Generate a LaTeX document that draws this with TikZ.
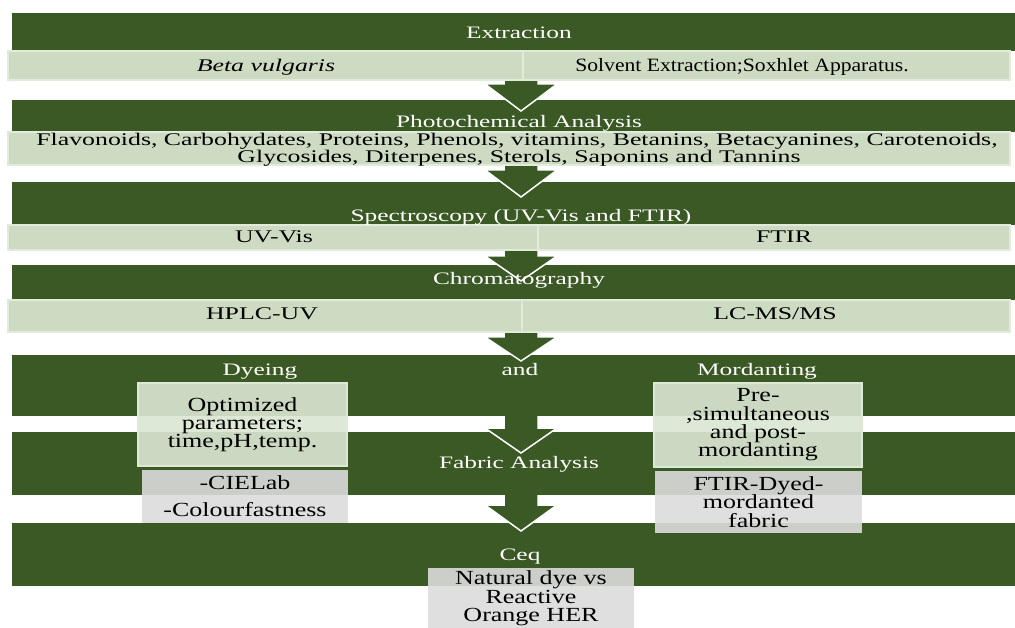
\documentclass[tikz,border=0pt]{standalone}
\usepackage{fontspec}
\setmainfont{Liberation Serif}
\newfontfamily\titlefont{Liberation Serif}[FakeStretch=1.45]
\newfontfamily\stripfont{Liberation Serif}[FakeStretch=1.45]
\newfontfamily\narrowfont{Liberation Serif}[FakeStretch=1.15]
\newfontfamily\boxfont{Liberation Serif}[FakeStretch=1.3]
\definecolor{bandgreen}{RGB}{59,89,36}
\definecolor{stripgreen}{RGB}{205,219,194}
\definecolor{stripedge}{RGB}{226,234,220}
\definecolor{boxgreen}{RGB}{219,230,210}
\definecolor{boxedge}{RGB}{222,232,214}
\definecolor{boxgrey}{RGB}{220,220,220}
\tikzset{
  band/.style={fill=bandgreen, minimum width=1004pt, inner sep=0pt},
  strip/.style={fill=stripgreen, draw=stripedge, line width=1.5pt, inner sep=0pt},
  title/.style={anchor=base, text=white, inner sep=0pt, font=\titlefont\fontsize{17.5}{18}\selectfont},
  striptext/.style={anchor=base, inner sep=0pt, font=\stripfont\fontsize{17.8}{18}\selectfont},
  infobox/.style={fill=boxgreen, fill opacity=0.91, text opacity=1, draw=boxedge, line width=2pt,
    align=center, inner sep=0pt, font=\boxfont\fontsize{20}{18.3}\selectfont},
  greybox/.style={infobox, fill=boxgrey, fill opacity=0.9, draw=none},
  arrowedge/.style={draw=white, line width=1.5pt, line join=miter}
}
\begin{document}
\begin{tikzpicture}[x=1pt,y=-1pt]
\useasboundingbox (0,0) rectangle (1015,628);
\clip (0,0) rectangle (1015,628);
\node[band, minimum height=38pt] (extraction) at (514,32) {};
\node[band, minimum height=32pt] (photochem) at (514,116) {};
\node[band, minimum height=43pt] (spectro) at (514,203.5) {};
\node[band, minimum height=35pt] (chroma) at (514,282.5) {};
\node[band, minimum height=61pt] (dyeing) at (514,385.5) {};
\node[band, minimum height=63pt] (fabric) at (514,463.5) {};
\node[band, minimum height=63pt] (ceq) at (514,554.5) {};
\foreach \t/\h/\p in {79/84/111, 164/170/197, 249/256/281, 331/337/361, 415/428/453, 494/505/531}
{
  \fill[bandgreen] (504,\t) -- (504,\h) -- (485,\h) -- (521,\p) -- (557,\h) -- (538,\h) -- (538,\t) -- cycle;
  \draw[arrowedge] (504,\t+1) -- (504,\h) -- (485,\h) -- (521,\p) -- (557,\h) -- (538,\h) -- (538,\t+1);
}
\node[strip, minimum width=515pt, minimum height=29pt] (plant) at (265.5,65.5) {};
\node[strip, minimum width=487pt, minimum height=29pt] (solvent) at (766.5,65.5) {};
\node[strip, minimum width=1002pt, minimum height=33pt] (compounds) at (509,148.5) {};
\node[strip, minimum width=530pt, minimum height=25pt] (uvvis) at (273,237.5) {};
\node[strip, minimum width=472pt, minimum height=25pt] (ftir) at (774,237.5) {};
\node[strip, minimum width=514pt, minimum height=32pt] (hplc) at (265,316) {};
\node[strip, minimum width=488pt, minimum height=32pt] (lcms) at (766,316) {};
\node[infobox, minimum width=209pt, minimum height=83pt] (optbox) at (242.5,424.5)
  {Optimized\\parameters;\\time,pH,temp.};
\node[infobox, minimum width=208pt, minimum height=84pt] (mordbox) at (758,425)
  {Pre-\\,simultaneous\\and post-\\mordanting};
\node[greybox, minimum width=206pt, minimum height=53pt, font=\boxfont\fontsize{20}{27}\selectfont] (cielabbox) at (245,496.5)
  {-CIELab\\-Colourfastness};
\node[greybox, minimum width=207pt, minimum height=62pt] (ftirbox) at (758.5,502)
  {FTIR-Dyed-\\mordanted\\fabric};
\node[greybox, minimum width=206pt, minimum height=62pt] (ceqbox) at (531,598.5)
  {Natural dye vs\\Reactive\\Orange HER};
\node[title] (extractiontxt) at (519,39) {Extraction};
\node[title] (photochemtxt) at (519,128) {Photochemical Analysis};
\node[title] (spectrotxt) at (521,222) {Spectroscopy (UV-Vis and FTIR)};
\node[title] (chromatxt) at (519,285) {Chromatography};
\node[title] (dyeingtxt) at (260,376) {Dyeing};
\node[title] (andtxt) at (520,376) {and};
\node[title] (mordtxt) at (757,376) {Mordanting};
\node[title] (fabrictxt) at (519,468) {Fabric Analysis};
\node[title] (ceqtxt) at (520,560) {Ceq};
\node[striptext] (planttxt) at (266,72) {\textit{Beta vulgaris}};
\node[striptext, font=\narrowfont\fontsize{18.8}{18}\selectfont] (solventtxt) at (742,72) {Solvent Extraction;Soxhlet Apparatus.};
\node[striptext] (compline1) at (517,146) {Flavonoids, Carbohydates, Proteins, Phenols, vitamins, Betanins, Betacyanines, Carotenoids,};
\node[striptext] (compline2) at (519,163) {Glycosides, Diterpenes, Sterols, Saponins and Tannins};
\node[striptext] (uvvistxt) at (274,243) {UV-Vis};
\node[striptext] (ftirtxt) at (784,243) {FTIR};
\node[striptext] (hplctxt) at (262,320) {HPLC-UV};
\node[striptext] (lcmstxt) at (775,320) {LC-MS/MS};
\end{tikzpicture}
\end{document}
